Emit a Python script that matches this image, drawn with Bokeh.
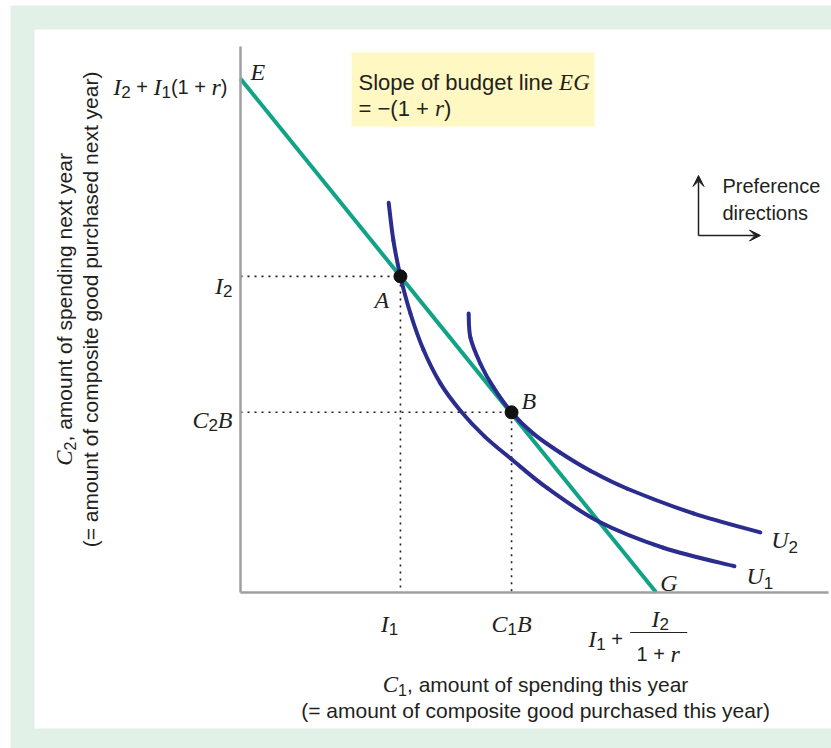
import math, os, glob, subprocess
from bokeh.plotting import figure
from bokeh.models import Range1d, Label, BoxAnnotation, Arrow, VeeHead, FixedTicker, LinearAxis
from bokeh.embed import file_html
from bokeh.resources import INLINE

# ---------------- data ----------------
r = 0.33
I1 = 27.2          # income this year
I2 = 57.9          # income next year
E_val = 94.1       # I2 + I1(1+r)
G_val = 70.7       # I1 + I2/(1+r)
C1B = 46.1
C2B = 33.0
budget_x = [0.0, G_val]
budget_y = [E_val, 0.0]
u1_x = [25.2, 26.0, 27.2, 28.9, 31.1, 34.0, 37.4, 41.5, 46.1, 52.2, 60.9, 71.9, 84.0]
u1_y = [71.4, 64.5, 57.9, 51.1, 44.5, 38.3, 33.3, 28.6, 24.4, 19.1, 13.0, 8.2, 4.8]
u2_x = [38.8, 39.1, 40.8, 43.0, 46.1, 49.8, 54.4, 59.5, 65.8, 77.0, 88.4]
u2_y = [51.1, 46.7, 41.9, 37.6, 33.0, 29.1, 25.6, 22.3, 19.0, 14.5, 11.0]
points_x = [I1, C1B]
points_y = [I2, C2B]
axis_end_x = 100.0
axis_end_y = 100.0

# ---------------- layout ----------------
W, H = 831, 748
PX0, PY0 = 240.0, 592.0     # canvas pixel of the data origin
SX, SY = 5.88, 5.46         # pixels per data unit

def dx(px):
    return (px - PX0) / SX

def dy(py):
    return (PY0 - py) / SY

GREEN = "#10a386"
NAVY = "#2b2d8e"
INK = "#231f20"
SANS = "Liberation Sans"
SERIF = "Liberation Serif"

p = figure(width=W, height=H, output_backend="svg", toolbar_location=None,
           x_range=Range1d(dx(0), dx(W)), y_range=Range1d(dy(H), dy(0)),
           x_axis_location=None, y_axis_location=None,
           min_border_left=0, min_border_right=0, min_border_top=0, min_border_bottom=0)
p.outline_line_color = None
p.grid.visible = False
p.background_fill_color = "white"
p.border_fill_color = "white"

# background band
p.add_layout(BoxAnnotation(left=10, right=W, top=5, bottom=H,
                           left_units="canvas", right_units="canvas",
                           top_units="canvas", bottom_units="canvas",
                           fill_color="#e2f1e8", fill_alpha=1, line_color=None, level="underlay"))
p.add_layout(BoxAnnotation(left=34, right=W, top=29, bottom=728,
                           left_units="canvas", right_units="canvas",
                           top_units="canvas", bottom_units="canvas",
                           fill_color="white", fill_alpha=1, line_color=None, level="underlay"))
# yellow note box
p.add_layout(BoxAnnotation(left=dx(351), right=dx(594), top=dy(52), bottom=dy(126),
                           fill_color="#fff8c2", fill_alpha=1, line_color=None, level="underlay"))

# axes fixed at the origin
for loc, dim_end in (("below", axis_end_x), ("left", axis_end_y)):
    ax = LinearAxis(ticker=FixedTicker(ticks=[]), fixed_location=0, bounds=(0, dim_end),
                    axis_line_color="#9d9fa2", axis_line_width=2.5,
                    major_tick_line_color=None, minor_tick_line_color=None,
                    major_tick_out=0, major_tick_in=0, major_label_standoff=0,
                    major_label_text_font_size="0px")
    p.add_layout(ax, loc)

# ---------------- marks ----------------
p.line([0, I1, I1], [I2, I2, 0], line_dash="2 5", line_width=1.6, line_color=INK)
p.line([0, C1B, C1B], [C2B, C2B, 0], line_dash="2 5", line_width=1.6, line_color=INK)
p.line(budget_x, budget_y, line_width=4, line_color=GREEN)

def smooth_curve(xs, ys, **kw):
    # Catmull-Rom spline through the read points, drawn as cubic Bezier pieces
    n = len(xs)
    x0, y0, x1, y1, cx0, cy0, cx1, cy1 = [], [], [], [], [], [], [], []
    for i in range(n - 1):
        a = max(i - 1, 0)
        b = min(i + 2, n - 1)
        x0.append(xs[i]); y0.append(ys[i]); x1.append(xs[i + 1]); y1.append(ys[i + 1])
        cx0.append(xs[i] + (xs[i + 1] - xs[a]) / 6.0)
        cy0.append(ys[i] + (ys[i + 1] - ys[a]) / 6.0)
        cx1.append(xs[i + 1] - (xs[b] - xs[i]) / 6.0)
        cy1.append(ys[i + 1] - (ys[b] - ys[i]) / 6.0)
    p.bezier(x0=x0, y0=y0, x1=x1, y1=y1, cx0=cx0, cy0=cy0, cx1=cx1, cy1=cy1, **kw)

smooth_curve(u1_x, u1_y, line_width=4, line_color=NAVY, line_cap="round")
smooth_curve(u2_x, u2_y, line_width=4, line_color=NAVY, line_cap="round")
p.scatter(points_x, points_y, size=13, fill_color="#111111", line_color="#111111")

# ---------------- text helpers ----------------
_fonts = {}

def _font_file(family, italic):
    style = "Italic" if italic else "Regular"
    try:
        out = subprocess.run(["fc-match", "-f", "%{file}", f"{family}:style={style}"],
                             capture_output=True, text=True, timeout=5).stdout.strip()
        if out and os.path.exists(out):
            return out
    except Exception:
        pass
    name = ("LiberationSerif-Italic.ttf" if italic else "LiberationSans-Regular.ttf")
    for f in glob.glob("/usr/share/fonts/**/" + name, recursive=True):
        return f
    return None

def text_width(text, family, italic, size):
    try:
        from PIL import ImageFont
        key = (family, italic, size)
        if key not in _fonts:
            _fonts[key] = ImageFont.truetype(_font_file(family, italic), size)
        return _fonts[key].getlength(text)
    except Exception:
        return len(text) * size * 0.52

def rich(x, y, segs, align="left", xo=0.0, yo=0.0, angle=0.0,
         it=24, sans=20, sub=16, drop=5):
    widths, specs = [], []
    for t, k in segs:
        fam = SERIF if k == "it" else SANS
        size = it if k == "it" else (sub if k == "sub" else sans)
        widths.append(text_width(t, fam, k == "it", size))
        specs.append((fam, size))
    total = sum(widths)
    cum = {"left": 0.0, "center": -total / 2, "right": -total}[align]
    for (t, k), w, (fam, size) in zip(segs, widths, specs):
        lead = len(t) - len(t.lstrip(" "))
        shown = t.strip(" ")
        adv = cum + (text_width(" " * lead, fam, k == "it", size) if lead else 0.0)
        d = drop if k == "sub" else 0.0
        if angle == 0:
            lx, ly = xo + adv, yo - d
        else:
            lx, ly = xo + d, yo + adv
        if shown:
            p.add_layout(Label(x=x, y=y, x_offset=lx, y_offset=ly, text=shown, angle=angle,
                               text_font=fam, text_font_size=f"{size}px",
                               text_font_style="italic" if k == "it" else "normal",
                               text_align="left", text_baseline="alphabetic",
                               text_color=INK))
        cum += w

# axis titles
rich(dx(535), dy(684), [("C", "it"), ("1", "sub"), (", amount of spending this year", "sans")],
     align="center", sans=21, sub=16, it=23)
rich(dx(535), dy(710), [("(= amount of composite good purchased this year)", "sans")],
     align="center", sans=21)
rich(dx(64), dy(309), [("C", "it"), ("2", "sub"), (", amount of spending next year", "sans")],
     align="center", angle=math.pi / 2, sans=21, sub=16, it=23)
rich(dx(90), dy(309), [("(= amount of composite good purchased next year)", "sans")],
     align="center", angle=math.pi / 2, sans=21)

# y tick labels
rich(0, E_val, [("I", "it"), ("2", "sub"), (" + ", "sans"), ("I", "it"), ("1", "sub"),
                ("(1 + ", "sans"), ("r", "it"), (")", "sans")], align="right", xo=-13, yo=-8, sub=17)
rich(0, I2, [("I", "it"), ("2", "sub")], align="right", xo=-8, yo=-10, sub=17)
rich(0, C2B, [("C", "it"), ("2", "sub"), ("B", "it")], align="right", xo=-8, yo=-8, sub=17)
# x tick labels
rich(I1, 0, [("I", "it"), ("1", "sub")], align="center", xo=-11, yo=-31, sub=17)
rich(C1B, 0, [("C", "it"), ("1", "sub"), ("B", "it")], align="center", yo=-31, sub=17)
rich(G_val, 0, [("I", "it"), ("1", "sub"), (" + ", "sans")], align="left", xo=-68, yo=-46, sub=17)
rich(G_val, 0, [("I", "it"), ("2", "sub")], align="center", xo=4, yo=-26, sub=17)
rich(G_val, 0, [("1 + ", "sans"), ("r", "it")], align="center", xo=2, yo=-61)
gx = PX0 + G_val * SX
p.add_layout(BoxAnnotation(left=gx - 26, right=gx + 31, top=631.4, bottom=632.6,
                           left_units="canvas", right_units="canvas",
                           top_units="canvas", bottom_units="canvas",
                           fill_color=INK, fill_alpha=1, line_color=None, level="overlay"))

# point / curve letters
rich(0, E_val, [("E", "it")], xo=10, yo=7)
rich(I1, I2, [("A", "it")], xo=-26, yo=-24)
rich(C1B, C2B, [("B", "it")], xo=10, yo=11)
rich(G_val, 0, [("G", "it")], xo=4, yo=10)
rich(u1_x[-1], u1_y[-1], [("U", "it"), ("1", "sub")], xo=12, yo=-10, sub=17, drop=7)
rich(u2_x[-1], u2_y[-1], [("U", "it"), ("2", "sub")], xo=11, yo=-8, sub=17, drop=7)

# note box text
rich(dx(358), dy(82), [("Slope of budget line ", "sans"), ("EG", "it")], sans=22, it=23)
rich(dx(358), dy(108), [("= \u2212(1 + ", "sans"), ("r", "it"), (")", "sans")], sans=22, it=23)

# preference directions
cx, cy = dx(698), dy(235)
p.add_layout(Arrow(end=VeeHead(size=11, fill_color=INK, line_color=INK),
                   x_start=cx, y_start=cy, x_end=cx, y_end=dy(175),
                   line_color=INK, line_width=1.5))
p.add_layout(Arrow(end=VeeHead(size=11, fill_color=INK, line_color=INK),
                   x_start=cx, y_start=cy, x_end=dx(760), y_end=cy,
                   line_color=INK, line_width=1.5))
rich(dx(722), dy(185), [("Preference", "sans")], sans=20)
rich(dx(722), dy(212), [("directions", "sans")], sans=20)

open("out.html", "w").write(file_html(p, INLINE))
